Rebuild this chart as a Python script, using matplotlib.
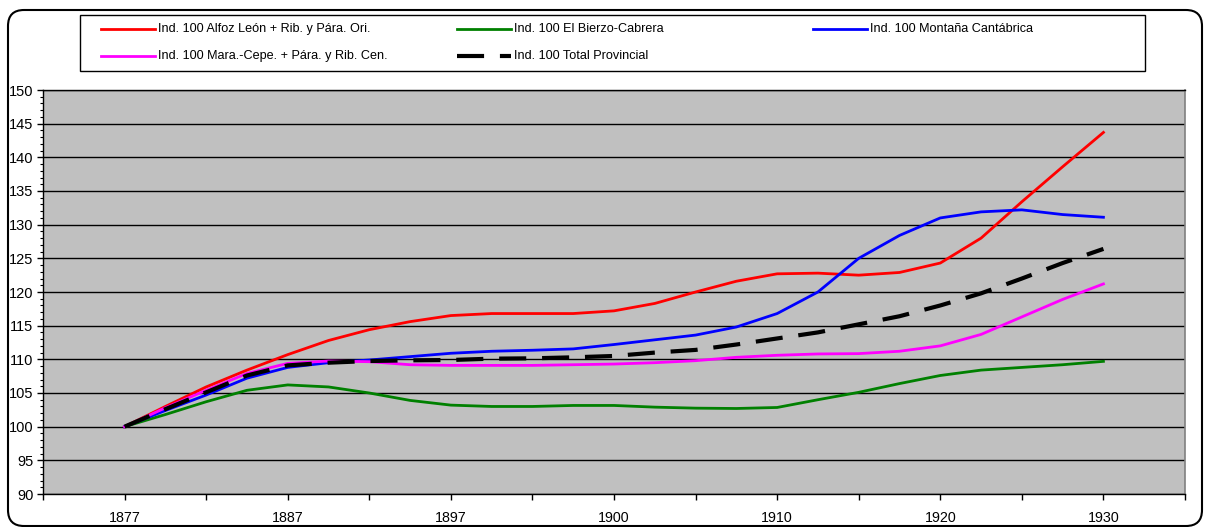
import numpy as np
import matplotlib
matplotlib.use("Agg")
import matplotlib.pyplot as plt
from matplotlib.lines import Line2D
from matplotlib.patches import FancyBboxPatch, Rectangle
from matplotlib.transforms import IdentityTransform

plt.rcParams['font.family'] = ['Liberation Sans', 'DejaVu Sans']

# values, one point every half category step
year_labels = ['1877', '1887', '1897', '1900', '1910', '1920', '1930']

alfoz = [100, 103.0, 105.9, 108.4, 110.7, 112.8, 114.4, 115.6, 116.5, 116.8, 116.8, 116.8, 117.2,
         118.3, 120.0, 121.6, 122.7, 122.8, 122.5, 122.9, 124.3, 128.0, 133.4, 138.6, 143.7]
bierzo = [100, 101.8, 103.7, 105.4, 106.2, 105.9, 105.0, 103.9, 103.2, 103.0, 103.0, 103.15, 103.15,
          102.9, 102.75, 102.7, 102.85, 104.0, 105.1, 106.4, 107.6, 108.4, 108.8, 109.2, 109.7]
montana = [100, 102.4, 104.7, 107.2, 108.8, 109.5, 109.9, 110.4, 110.9, 111.2, 111.35, 111.55, 112.2,
           112.9, 113.6, 114.8, 116.8, 120.0, 125.0, 128.4, 131.0, 131.9, 132.2, 131.5, 131.1]
mara = [100, 102.8, 105.4, 107.9, 109.4, 109.75, 109.65, 109.2, 109.1, 109.1, 109.1, 109.2, 109.3,
        109.5, 109.8, 110.3, 110.6, 110.8, 110.85, 111.2, 112.0, 113.7, 116.3, 118.9, 121.2]
total = [100, 102.6, 105.1, 107.6, 109.1, 109.5, 109.75, 109.85, 109.9, 110.1, 110.15, 110.3, 110.5,
         111.0, 111.4, 112.2, 113.1, 114.0, 115.2, 116.4, 118.0, 119.8, 122.0, 124.3, 126.4]

series = [
    ("Ind. 100 Alfoz León + Rib. y Pára. Ori.", alfoz, '#FF0000', '-'),
    ("Ind. 100 El Bierzo-Cabrera", bierzo, '#008000', '-'),
    ("Ind. 100 Montaña Cantábrica", montana, '#0000FF', '-'),
    ("Ind. 100 Mara.-Cepe. + Pára. y Rib. Cen.", mara, '#FF00FF', '-'),
    ("Ind. 100 Total Provincial", total, '#000000', '--'),
]

W, H = 1209, 527
fig = plt.figure(figsize=(W / 100, H / 100), dpi=100)

# outer rounded frame
frame = FancyBboxPatch((8, 1), 1194, 516, boxstyle="round,pad=0,rounding_size=16",
                       transform=IdentityTransform(), facecolor='none', edgecolor='black',
                       linewidth=1.5, zorder=-1)
fig.patches.append(frame)

ax = fig.add_axes([43 / W, (H - 494) / H, 1142 / W, 404 / H])
ax.set_facecolor('#C0C0C0')

x = 1 + 0.5 * np.arange(len(alfoz))
for label, vals, color, style in series:
    if style == '--':
        ax.plot(x, vals, color=color, lw=3, linestyle=(0, (6.5, 3.8)), solid_capstyle='butt')
    else:
        ax.plot(x, vals, color=color, lw=2)

ax.set_xlim(0, 14)
ax.set_ylim(90, 150)
ax.set_yticks(np.arange(90, 151, 5))
ax.set_yticks(np.arange(90, 151, 1), minor=True)
ax.yaxis.grid(True, which='major', color='black', lw=1.0)
ax.set_axisbelow(True)

ax.set_xticks(np.arange(0, 15))
xt = [''] * 15
for i, lab in enumerate(year_labels):
    xt[1 + 2 * i] = lab
ax.set_xticklabels(xt)

ax.tick_params(axis='y', which='major', length=4, width=1, pad=3, labelsize=10.5)
ax.tick_params(axis='y', which='minor', length=2, width=0.8)
ax.tick_params(axis='x', which='major', length=4, width=1, pad=8, labelsize=10.3)

for s in ['left', 'bottom', 'top']:
    ax.spines[s].set_color('black')
    ax.spines[s].set_linewidth(1.0)
ax.spines['right'].set_color('#808080')
ax.spines['right'].set_linewidth(1.2)

# legend box drawn in figure pixels
fig.patches.append(Rectangle((80 / W, 1 - 71 / H), (1145 - 80) / W, 56 / H,
                             transform=fig.transFigure, facecolor='white',
                             edgecolor='black', linewidth=1.0))
for i, (label, vals, color, style) in enumerate(series):
    col, row = i % 3, i // 3
    x0 = 101 + col * 356
    yy = 1 - (29 + row * 27) / H
    if style == '--':
        ln = Line2D([x0 / W, (x0 + 54) / W], [yy, yy], transform=fig.transFigure,
                    color=color, lw=3, linestyle=(0, (6.5, 3.8)))
    else:
        ln = Line2D([x0 / W, (x0 + 54) / W], [yy, yy], transform=fig.transFigure,
                    color=color, lw=2)
    fig.add_artist(ln)
    fig.text((x0 + 57) / W, yy, label, fontsize=9.1, va='center', ha='left')

fig.savefig("out.png", dpi=100)
